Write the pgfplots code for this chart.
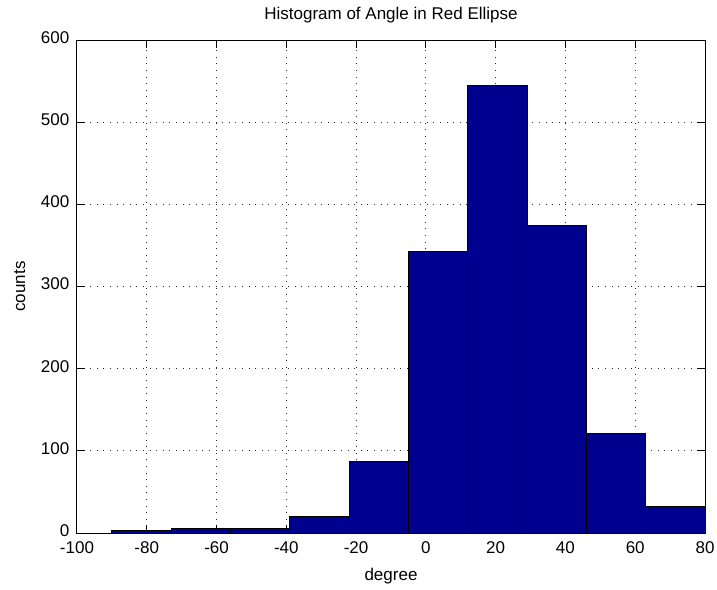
\documentclass[border=0pt]{standalone}
\usepackage{fontspec}
\setmainfont{Liberation Sans}
\usepackage{pgfplots}
\pgfplotsset{compat=1.18}
\definecolor{barblue}{RGB}{0,0,143}
\begin{document}
\fontsize{17bp}{20bp}\selectfont
\begin{tikzpicture}
\path[use as bounding box] (-77bp,-57bp) rectangle (640bp,533bp);
\begin{axis}[
  at={(0,0)}, anchor=south west,
  scale only axis,
  width=628bp, height=493bp,
  xmin=-100, xmax=80,
  ymin=0, ymax=600,
  xtick={-100,-80,...,80},
  ytick={0,100,...,600},
  /pgf/number format/assume math mode=true,
  tick align=inside,
  major tick length=8bp,
  axis line style={line width=1bp},
  every tick/.style={black, line width=1bp},
  grid=major,
  major grid style={black!85, line width=1bp, dash pattern=on 1bp off 5.6bp},
  xticklabel style={anchor=base, inner sep=0pt, yshift=-20.5bp},
  yticklabel style={anchor=east, inner sep=0pt, xshift=-7.5bp, yshift=2.5bp},
  title={Histogram of Angle in Red Ellipse},
  title style={at={(axis description cs:0.5,1.0304)}, anchor=base},
  xlabel={degree},
  xlabel style={at={(axis description cs:0.5,-0.097)}, anchor=base},
  ylabel={counts},
  ylabel style={at={(axis description cs:-0.0828,0.5)}, anchor=base, rotate=0},
]
% histogram counts, left bin edges with the last edge repeated
\addplot[ybar interval, fill=barblue, draw=black, line width=0.8bp]
  coordinates {
    (-90,3) (-73,5) (-56,5) (-39,20) (-22,87)
    (-5,343) (12,545) (29,374) (46,121) (63,32) (80,32)
  };
\end{axis}
\end{tikzpicture}
\end{document}
